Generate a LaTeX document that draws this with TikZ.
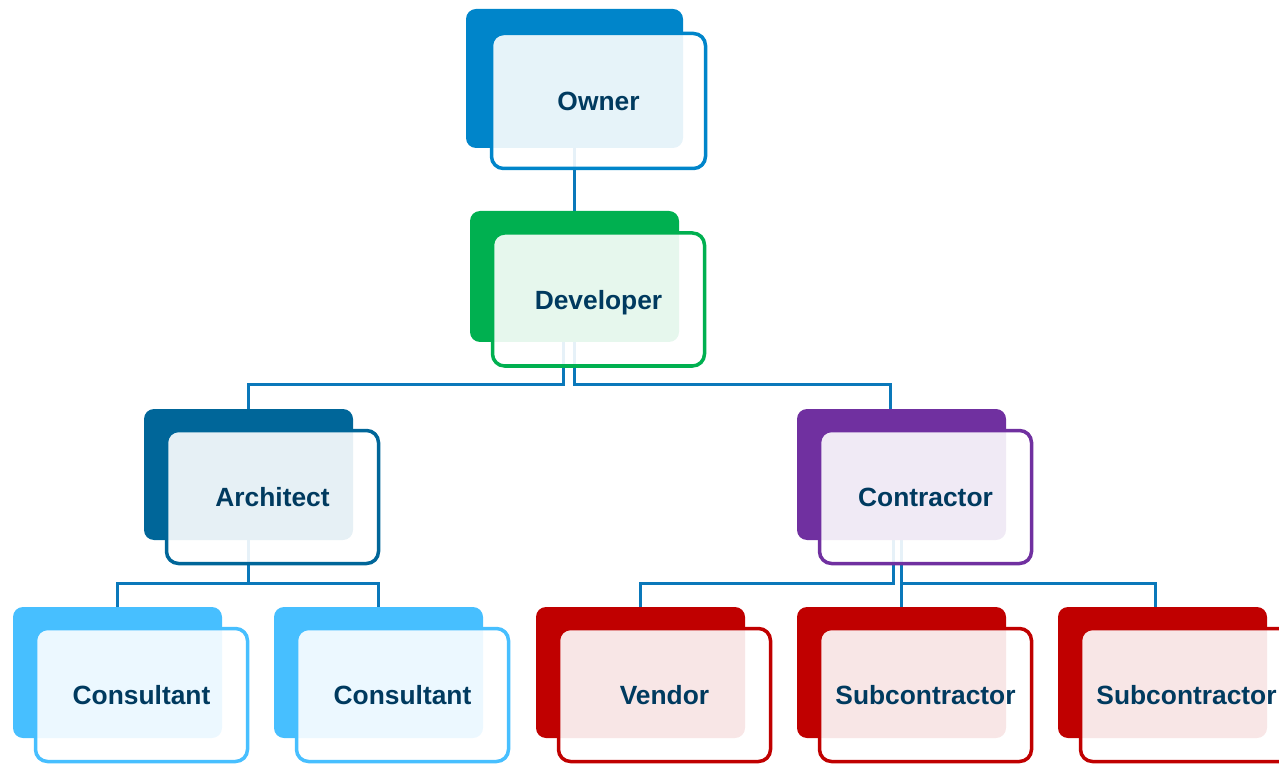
\documentclass[tikz,border=0pt]{standalone}
\usepackage{fontspec}
\setmainfont{Liberation Sans}
\usetikzlibrary{shapes, calc, positioning, backgrounds}
\definecolor{ownblue}{HTML}{0085CA}
\definecolor{devgreen}{HTML}{00B050}
\definecolor{archblue}{HTML}{006699}
\definecolor{conpurple}{HTML}{7030A0}
\definecolor{consblue}{HTML}{47BFFF}
\definecolor{subred}{HTML}{C00000}
\definecolor{linkblue}{HTML}{0A78BA}
\definecolor{labelnavy}{HTML}{003A5F}
\tikzstyle{back} = [rectangle, rounded corners=0.2cm, minimum width=4.18cm, minimum height=2.62cm]
\tikzstyle{front} = [rectangle, rounded corners=0.24cm, minimum width=4.24cm, minimum height=2.66cm, line width=0.07cm, fill=white, fill opacity=0.9, text opacity=1, text=labelnavy, text depth=0pt, font=\fontsize{15}{18}\selectfont\bfseries]
\tikzstyle{link} = [draw=linkblue, line width=0.06cm]

\begin{document}
\begin{tikzpicture}[node distance=3.96cm, on grid]
\useasboundingbox (0,0) rectangle (25.58,-15.28);
% solid plates behind each box
\node [back, fill=ownblue, minimum width=4.34cm, minimum height=2.78cm] (ownerbk) at (11.49,-1.57) {};
\node [back, fill=devgreen, below of=ownerbk] (devbk) {};
\node [back, fill=archblue, below of=devbk, xshift=-6.52cm] (archbk) {};
\node [back, fill=conpurple, below of=devbk, xshift=6.54cm] (conbk) {};
\node [back, fill=consblue, below of=archbk, xshift=-2.62cm] (cons1bk) {};
\node [back, fill=consblue, below of=archbk, xshift=2.60cm] (cons2bk) {};
\node [back, fill=subred, below of=conbk, xshift=-5.22cm] (vendbk) {};
\node [back, fill=subred, below of=conbk] (sub1bk) {};
\node [back, fill=subred, below of=conbk, xshift=5.22cm] (sub2bk) {};

% framed boxes with the labels
\node [front, draw=ownblue, minimum width=4.28cm, minimum height=2.70cm, below right=0.45cm and 0.48cm of ownerbk] (owner) {Owner};
\node [front, draw=devgreen, below right=0.46cm and 0.48cm of devbk] (dev) {Developer};
\node [front, draw=archblue, below right=0.45cm and 0.48cm of archbk] (arch) {Architect};
\node [front, draw=conpurple, below right=0.45cm and 0.48cm of conbk] (con) {Contractor};
\node [front, draw=consblue, below right=0.45cm and 0.48cm of cons1bk] (cons1) {Consultant};
\node [front, draw=consblue, below right=0.45cm and 0.48cm of cons2bk] (cons2) {Consultant};
\node [front, draw=subred, below right=0.45cm and 0.48cm of vendbk] (vend) {Vendor};
\node [front, draw=subred, below right=0.45cm and 0.48cm of sub1bk] (sub1) {Subcontractor};
\node [front, draw=subred, below right=0.45cm and 0.48cm of sub2bk] (sub2) {Subcontractor};

% connectors sit behind everything
\begin{scope}[on background layer]
\draw [link] (ownerbk.south) -- (devbk.north);
\draw [link] ($(devbk.south)+(-0.23,0)$) -- ++(0,-0.84) -| (archbk.north);
\draw [link] (devbk.south) -- ++(0,-0.84) -| ($(conbk.north)+(-0.23,0)$);
\draw [link] (archbk.south) -- ++(0,-0.86) -| (cons1bk.north);
\draw [link] (archbk.south) -- ++(0,-0.86) -| (cons2bk.north);
\draw [link] ($(conbk.south)+(-0.17,0)$) -- ++(0,-0.86) -| (vendbk.north);
\draw [link] (conbk.south) -- (sub1bk.north);
\draw [link] (conbk.south) -- ++(0,-0.86) -| ($(sub2bk.north)+(-0.15,0)$);
\end{scope}
\end{tikzpicture}
\end{document}
